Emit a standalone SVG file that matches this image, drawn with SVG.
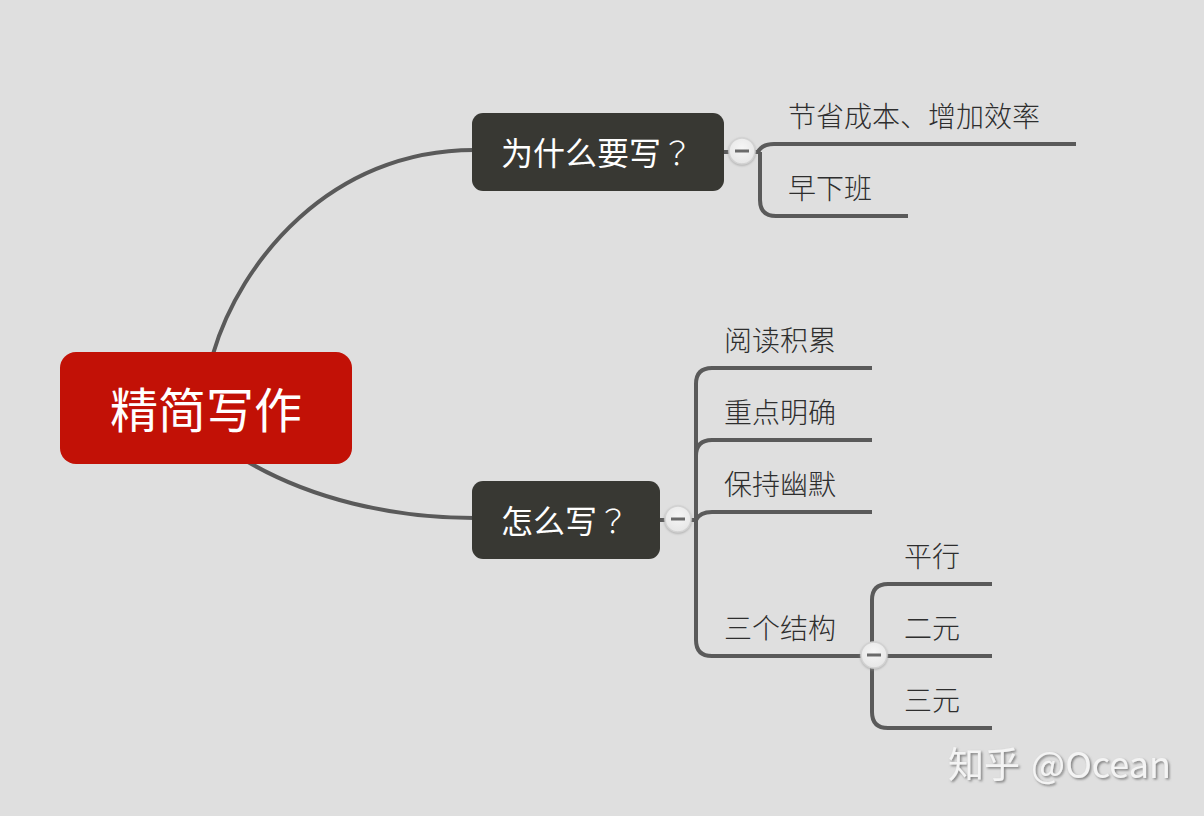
<svg xmlns="http://www.w3.org/2000/svg" width="1204" height="816" viewBox="0 0 1204 816">
<defs>
<radialGradient id="btn" cx="50%" cy="40%" r="60%"><stop offset="0" stop-color="#f6f6f6"/><stop offset="1" stop-color="#e6e6e6"/></radialGradient>
<filter id="wm" x="-5%" y="-20%" width="110%" height="140%"><feDropShadow dx="1.5" dy="1.500" stdDeviation="1" flood-color="#7a7a7a" flood-opacity="0.95"/></filter>
<filter id="ts" x="-20%" y="-20%" width="140%" height="140%"><feDropShadow dx="0" dy="1" stdDeviation="1" flood-color="#999" flood-opacity="0.7"/></filter>
</defs>
<style>
text{font-family:"Noto Sans CJK SC","Liberation Sans",sans-serif;font-weight:300;}
.c{fill:none;stroke:#5a5a5a;stroke-width:4;}
.leaf{font-size:28px;fill:#2e2e2e;}
.sub{font-size:32px;fill:#fff;font-weight:400;}
.q{font-family:"Noto Sans CJK TC",sans-serif;font-weight:300;}
.b{fill:#383833;}
.t circle{fill:url(#btn);stroke:#d2d2d2;stroke-width:1.5;filter:url(#ts);}
.t rect{fill:#6a6a6a;}
</style>
<rect width="1204" height="816" fill="#dfdfdf"/>
<g id="connectors">
<path class="c" d="M213 354C240 262 330 150 474 150"/>
<path class="c" d="M248 462C310 498 390 518 474 518"/>
<path class="c" d="M722 152H758"/>
<path class="c" d="M758 152C761 146 766 144 774 144H1076"/>
<path class="c" d="M760 152V200Q760 216 776 216H908"/>
<path class="c" d="M658 520H696"/>
<path class="c" d="M872 368H712Q696 368 696 384V640Q696 656 712 656H992"/>
<path class="c" d="M696 456Q696 440 712 440H872"/>
<path class="c" d="M696 520C699 514 704 512 712 512H872"/>
<path class="c" d="M992 584H888Q872 584 872 600V712Q872 728 888 728H992"/>
</g>
<g id="root"><rect x="60" y="352" width="292" height="112" rx="16" fill="#c21106"/><text x="206" y="428" text-anchor="middle" font-size="48" fill="#fff" style="font-weight:400">精简写作</text></g>
<g id="why"><rect class="b" x="472" y="113" width="252" height="78" rx="11"/><text class="sub" x="501" y="165">为什么要写<tspan class="q">？</tspan></text></g>
<g id="how"><rect class="b" x="472" y="481" width="188" height="78" rx="11"/><text class="sub" x="501" y="533">怎么写<tspan class="q">？</tspan></text></g>
<g id="toggle1" class="t"><circle cx="742" cy="151" r="13"/><rect x="735" y="149.500" width="14" height="3"/></g>
<g id="toggle2" class="t"><circle cx="678" cy="519" r="13"/><rect x="671" y="517.500" width="14" height="3"/></g>
<g id="toggle3" class="t"><circle cx="874" cy="655" r="13"/><rect x="867" y="653.500" width="14" height="3"/></g>
<g id="n1"><text class="leaf" x="788" y="127">节省成本、增加效率</text></g>
<g id="n2"><text class="leaf" x="788" y="199">早下班</text></g>
<g id="n3"><text class="leaf" x="724" y="351">阅读积累</text></g>
<g id="n4"><text class="leaf" x="724" y="423">重点明确</text></g>
<g id="n5"><text class="leaf" x="724" y="495">保持幽默</text></g>
<g id="n6"><text class="leaf" x="724" y="639">三个结构</text></g>
<g id="n7"><text class="leaf" x="904" y="567">平行</text></g>
<g id="n8"><text class="leaf" x="904" y="639">二元</text></g>
<g id="n9"><text class="leaf" x="904" y="711">三元</text></g>
<text x="948" y="778" font-size="36" fill="#f4f4f4" filter="url(#wm)" style="font-weight:400">知乎 <tspan dx="3" font-size="36">@Ocean</tspan></text>
</svg>
